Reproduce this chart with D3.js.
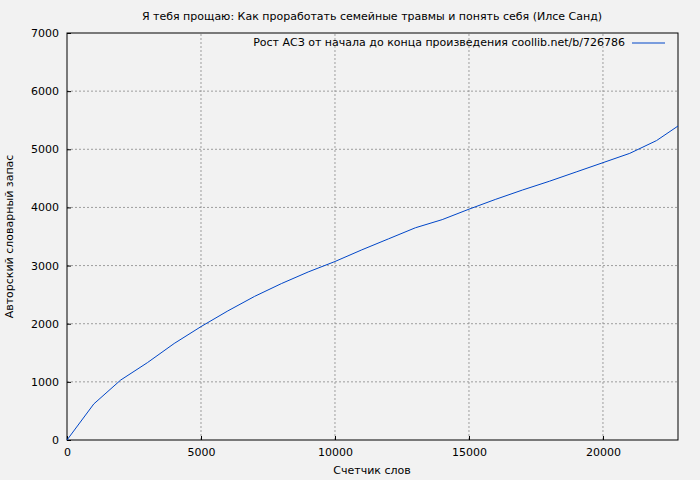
<!DOCTYPE html>
<html>
<head>
<meta charset="utf-8">
<script src="https://d3js.org/d3.v7.min.js"></script>
<style>
  body { margin: 0; background: #f2f2f2; }
  text { font-family: "DejaVu Sans", sans-serif; fill: #000; }
</style>
</head>
<body>
<script>
// word count vs author's vocabulary
const words = [0, 1000, 2000, 3000, 4000, 5000, 6000, 7000, 8000, 9000, 10000, 11000,
  12000, 13000, 14000, 15000, 16000, 17000, 18000, 19000, 20000, 21000, 22000, 22800];
const vocab = [0, 620, 1030, 1330, 1660, 1950, 2220, 2470, 2690, 2890, 3070, 3270,
  3460, 3650, 3790, 3970, 4140, 4300, 4450, 4610, 4770, 4930, 5150, 5400];
const xTicks = [0, 5000, 10000, 15000, 20000];
const yTicks = [0, 1000, 2000, 3000, 4000, 5000, 6000, 7000];

const width = 700, height = 480;
const m = { left: 67, right: 22, top: 33, bottom: 40 };

const svg = d3.select('body').append('svg')
  .attr('width', width).attr('height', height);

svg.append('rect').attr('width', width).attr('height', height).attr('fill', '#f2f2f2');

const x = d3.scaleLinear().domain([0, 22800]).range([m.left, width - m.right]);
const y = d3.scaleLinear().domain([0, 7000]).range([height - m.bottom, m.top]);

// grid
svg.append('g').selectAll('line').data(xTicks.slice(1)).join('line')
  .attr('x1', d => x(d)).attr('x2', d => x(d))
  .attr('y1', y(0)).attr('y2', y(7000))
  .attr('stroke', '#888').attr('stroke-dasharray', '2,2').attr('stroke-width', 0.8);
svg.append('g').selectAll('line').data(yTicks.slice(1, -1)).join('line')
  .attr('x1', x(0)).attr('x2', x(22800))
  .attr('y1', d => y(d)).attr('y2', d => y(d))
  .attr('stroke', '#888').attr('stroke-dasharray', '2,2').attr('stroke-width', 0.8);

// axes
const xAxis = svg.append('g').attr('transform', `translate(0,${y(0)})`)
  .call(d3.axisBottom(x).tickValues(xTicks).tickSize(-4).tickPadding(8).tickFormat(d3.format('d')));
const yAxis = svg.append('g').attr('transform', `translate(${x(0)},0)`)
  .call(d3.axisLeft(y).tickValues(yTicks).tickSize(-4).tickPadding(8).tickFormat(d3.format('d')));
[xAxis, yAxis].forEach(a => {
  a.select('.domain').remove();
  a.selectAll('text').style('font-size', '11px').style('font-family', 'DejaVu Sans');
});

// frame
svg.append('rect')
  .attr('x', x(0)).attr('y', y(7000))
  .attr('width', x(22800) - x(0)).attr('height', y(0) - y(7000))
  .attr('fill', 'none').attr('stroke', '#000');

// line
const line = d3.line().x((d, i) => x(words[i])).y(d => y(d));
svg.append('path').datum(vocab)
  .attr('d', line).attr('fill', 'none').attr('stroke', '#0046c8').attr('stroke-width', 1);

// legend
svg.append('text').attr('x', 625).attr('y', 46).attr('text-anchor', 'end')
  .style('font-size', '11px').text('Рост АСЗ от начала до конца произведения coollib.net/b/726786');
svg.append('line').attr('x1', 632).attr('x2', 665).attr('y1', 43).attr('y2', 43)
  .attr('stroke', '#0046c8');

// titles
svg.append('text').attr('x', 372).attr('y', 20).attr('text-anchor', 'middle')
  .style('font-size', '11px')
  .text('Я тебя прощаю: Как проработать семейные травмы и понять себя (Илсе Санд)');
svg.append('text').attr('x', 372).attr('y', 474).attr('text-anchor', 'middle')
  .style('font-size', '11px').text('Счетчик слов');
svg.append('text').attr('transform', `translate(13,${(y(0) + y(7000)) / 2}) rotate(-90)`)
  .attr('text-anchor', 'middle').style('font-size', '11px').text('Авторский словарный запас');
</script>
</body>
</html>
